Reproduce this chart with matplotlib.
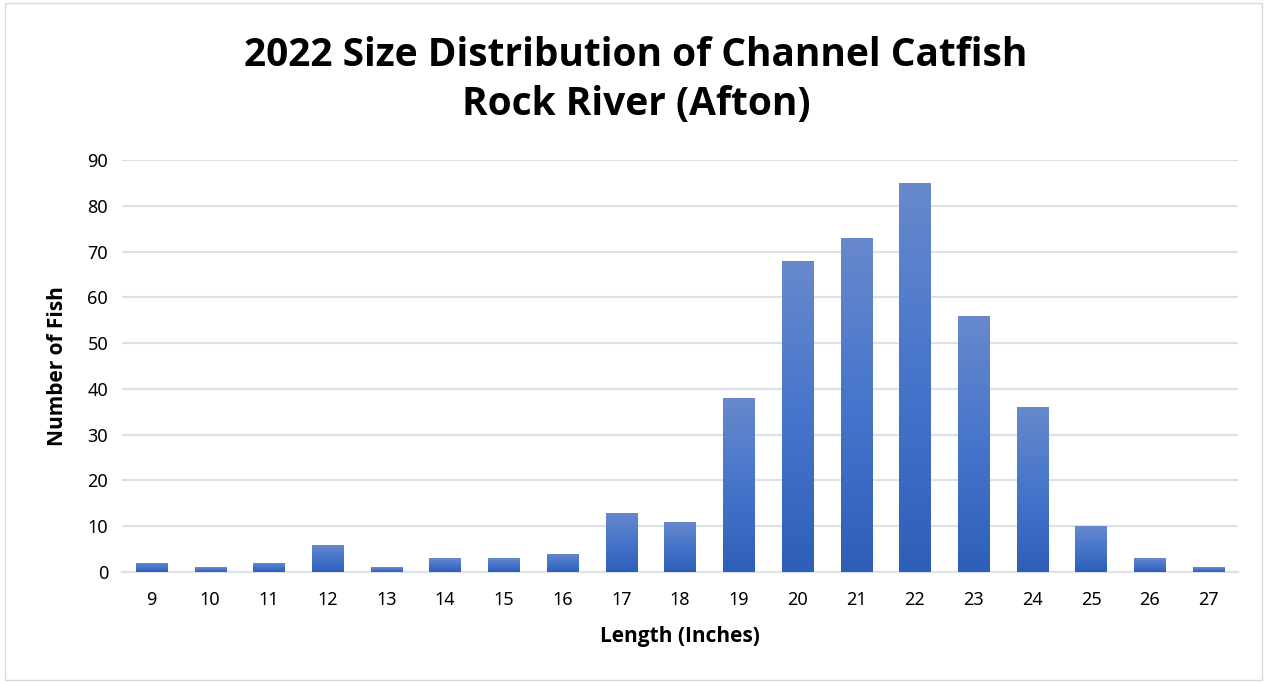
import numpy as np
import matplotlib
matplotlib.use('Agg')
import matplotlib.pyplot as plt
from matplotlib.colors import LinearSegmentedColormap
from matplotlib.patches import Rectangle

plt.rcParams['font.family'] = ['Noto Sans', 'DejaVu Sans']

lengths = ['9', '10', '11', '12', '13', '14', '15', '16', '17', '18',
           '19', '20', '21', '22', '23', '24', '25', '26', '27']
counts = [2, 1, 2, 6, 1, 3, 3, 4, 13, 11, 38, 68, 73, 85, 56, 36, 10, 3, 1]

fig = plt.figure(figsize=(12.67, 6.83), dpi=100)
ax = fig.add_axes([0.0963, 0.1625, 0.8807, 0.6032])

x = np.arange(len(lengths))
bars = ax.bar(x, counts, width=0.53, color='#4472c4', zorder=2)

# vertical gradient inside each bar
cmap = LinearSegmentedColormap.from_list('grad', ['#2e5fb7', '#4675cb', '#6889cc'])
grad = np.linspace(0, 1, 256).reshape(-1, 1)
for b in bars:
    bx, by = b.get_x(), b.get_y()
    w, h = b.get_width(), b.get_height()
    im = ax.imshow(grad, cmap=cmap, aspect='auto', origin='lower',
                   extent=[bx, bx + w, by, by + h], zorder=3)
    im.set_clip_path(b)
    b.set_facecolor('none')

ax.set_xlim(-0.5, len(lengths) - 0.5)
ax.set_ylim(0, 90)
ax.set_yticks(range(0, 91, 10))
ax.set_xticks(x)
ax.set_xticklabels(lengths)
ax.yaxis.grid(True, color='#dde1e8', linewidth=1.5, zorder=0)
ax.set_axisbelow(True)
for s in ['top', 'right', 'left']:
    ax.spines[s].set_visible(False)
ax.spines['bottom'].set_color('#dde1e8')
ax.spines['bottom'].set_linewidth(1.5)
ax.tick_params(axis='both', length=0, labelsize=13, colors='black', pad=10)
ax.tick_params(axis='x', pad=14)

bold = ['Open Sans', 'DejaVu Sans']
ax.set_xlabel('Length (Inches)', fontsize=15, fontweight='bold', family=bold, labelpad=12)
ax.set_ylabel('Number of Fish', fontsize=15, fontweight='bold', family=bold, labelpad=14)

fig.suptitle('2022 Size Distribution of Channel Catfish\nRock River (Afton)',
             x=0.502, y=0.948, fontsize=28, fontweight='bold', family=bold,
             linespacing=1.36)

fig.patches.append(Rectangle((0.004, 0.004), 0.992, 0.992, transform=fig.transFigure,
                             fill=False, edgecolor='#d9d9d9', linewidth=1))

fig.savefig('out.png', dpi=100)
